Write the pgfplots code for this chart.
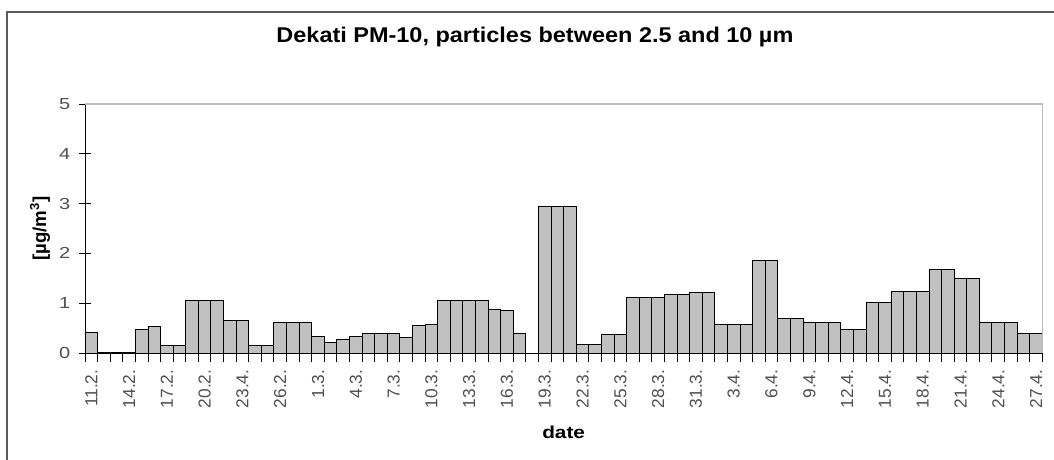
\documentclass[border=0pt]{standalone}
\usepackage{fontspec}
\setmainfont{Liberation Sans}
\usepackage{graphicx}
\usepackage{pgfplots}
\usepackage{pgfplotstable}
\pgfplotsset{compat=1.18}

\definecolor{barfill}{RGB}{192,192,192}
\definecolor{ticktext}{RGB}{80,80,80}
\definecolor{frameline}{RGB}{90,90,90}
\definecolor{plotborder}{RGB}{190,190,190}

% day index 1 = 11.2., 76 = 27.4. ; 18.3. (36) has no value
\pgfplotstableread{
day val
1 0.41
2 0.02
3 0.02
4 0.02
5 0.48
6 0.53
7 0.16
8 0.16
9 1.05
10 1.05
11 1.05
12 0.65
13 0.65
14 0.16
15 0.16
16 0.61
17 0.61
18 0.61
19 0.33
20 0.22
21 0.28
22 0.34
23 0.40
24 0.40
25 0.40
26 0.32
27 0.56
28 0.57
29 1.05
30 1.05
31 1.05
32 1.05
33 0.88
34 0.86
35 0.40
37 2.95
38 2.95
39 2.95
40 0.18
41 0.18
42 0.37
43 0.37
44 1.12
45 1.12
46 1.12
47 1.17
48 1.17
49 1.21
50 1.21
51 0.57
52 0.57
53 0.57
54 1.85
55 1.85
56 0.69
57 0.69
58 0.61
59 0.61
60 0.61
61 0.48
62 0.48
63 1.01
64 1.01
65 1.24
66 1.24
67 1.24
68 1.67
69 1.67
70 1.49
71 1.49
72 0.61
73 0.61
74 0.61
75 0.40
76 0.40
}\pmdata

\begin{document}
\begin{tikzpicture}
\useasboundingbox (0,0) rectangle (790.5pt,345pt);
% chart area border
\draw[frameline, line width=1.3pt] (5.25pt,-5pt) -- (5.25pt,336pt) -- (800pt,336pt);
\begin{axis}[
    at={(63.75pt,80.25pt)}, anchor=south west,
    scale only axis,
    width=718pt, height=186.75pt,
    xmin=0.5, xmax=76.5,
    ymin=0, ymax=5,
    axis lines*=left,
    axis line style={black, line width=0.7pt},
    ytick={0,1,2,3,4,5},
    yticklabel={\scalebox{1.25}[1]{\pgfmathprintnumber{\tick}}},
    xtick={1,4,...,76},
    xticklabels={11.2.,14.2.,17.2.,20.2.,23.4.,26.2.,1.3.,4.3.,7.3.,10.3.,13.3.,16.3.,19.3.,22.3.,25.3.,28.3.,31.3.,3.4.,6.4.,9.4.,12.4.,15.4.,18.4.,21.4.,24.4.,27.4.},
    minor xtick={0.5,1.5,...,76.5},
    major x tick style={draw=none},
    minor x tick style={black, line width=0.7pt},
    y tick style={black, line width=0.7pt},
    tick align=center,
    major tick length=9pt,
    minor tick length=7pt,
    /pgf/number format/assume math mode=true,
    yticklabel style={font=\fontsize{12}{14}\selectfont, text=ticktext, xshift=-3pt},
    xticklabel style={font=\fontsize{13}{15}\selectfont, text=ticktext, rotate=90, anchor=east},
    title={\scalebox{1.1}[1]{Dekati PM-10, particles between 2.5 and 10 µm}},
    title style={at={(axis description cs:0.47,1.237)}, anchor=center, font=\fontsize{16}{19}\selectfont\bfseries},
    xlabel={\scalebox{1.2}[1]{date}},
    xlabel style={at={(axis description cs:0.5,-0.317)}, anchor=center, font=\fontsize{13}{15}\selectfont\bfseries},
    ylabel={[µg/m\textsuperscript{3}]},
    ylabel style={at={(axis description cs:-0.047,0.5)}, anchor=center, font=\fontsize{14}{16}\selectfont\bfseries},
    ybar, bar width=1,
    clip=false,
]
\addplot[fill=barfill, draw=black, line width=0.7pt] table[x=day, y=val] {\pmdata};
\draw[plotborder, line width=0.8pt] (rel axis cs:0,1) -- (rel axis cs:1,1) -- (rel axis cs:1,0);
\end{axis}
\end{tikzpicture}
\end{document}
